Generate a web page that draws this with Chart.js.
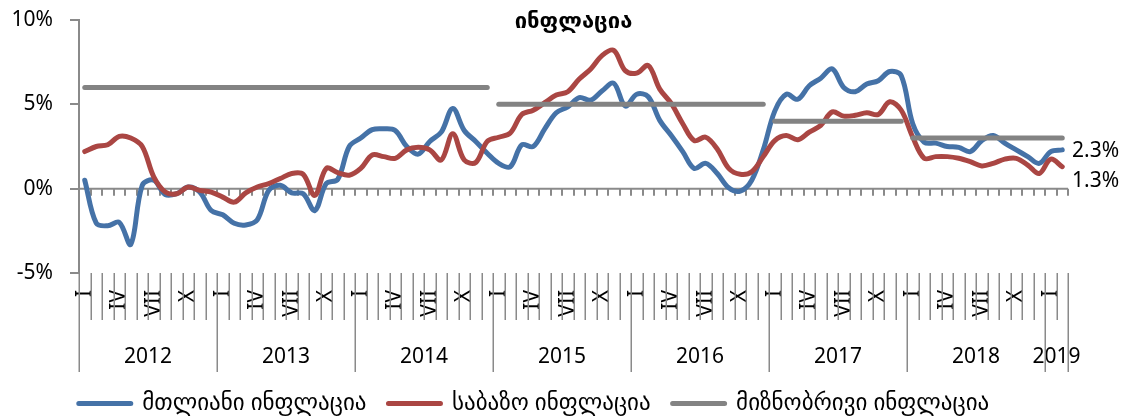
<!DOCTYPE html>
<html>
<head>
<meta charset="utf-8">
<script src="https://cdn.jsdelivr.net/npm/chart.js@4.4.1/dist/chart.umd.min.js"></script>
<style>
  html, body { margin: 0; padding: 0; background: #fff; }
  #wrap { width: 1128px; height: 417px; }
</style>
</head>
<body>
<div id="wrap"><canvas id="chart" width="1128" height="417"></canvas></div>
<script>
// years on the lower axis and month marks (roman) on the upper axis row
const years = ['2012', '2013', '2014', '2015', '2016', '2017', '2018', '2019'];
const monthMarks = ['I', '', '', 'IV', '', '', 'VII', '', '', 'X', '', ''];
const monthsInYear = [12, 12, 12, 12, 12, 12, 12, 2];

// headline CPI, y/y %, Jan 2012 - Feb 2019
const headline = [
  0.5, -2.05, -2.2, -2.0, -3.3, 0.2, 0.5, -0.35, -0.3, 0.1, -0.2, -1.3,
  -1.55, -2.05, -2.15, -1.85, -0.1, 0.2, -0.25, -0.3, -1.3, 0.3, 0.55, 2.5,
  3.0, 3.5, 3.55, 3.45, 2.5, 2.05, 2.8, 3.35, 4.75, 3.45, 2.8, 2.1,
  1.5, 1.3, 2.6, 2.5, 3.55, 4.5, 4.85, 5.4, 5.25, 5.8, 6.25, 4.9,
  5.6, 5.45, 4.05, 3.15, 2.2, 1.2, 1.5, 0.9, 0.05, -0.15, 0.5, 2.3,
  4.6, 5.6, 5.3, 6.1, 6.55, 7.1, 6.0, 5.75, 6.2, 6.4, 6.95, 6.7,
  3.85, 2.75, 2.7, 2.5, 2.45, 2.2, 2.85, 3.15, 2.7, 2.3, 1.9, 1.5,
  2.2, 2.3
];

// core CPI
const core = [
  2.2, 2.5, 2.6, 3.1, 3.0, 2.5, 0.7, -0.2, -0.3, 0.1, -0.1, -0.2,
  -0.5, -0.8, -0.25, 0.1, 0.3, 0.6, 0.9, 0.85, -0.4, 1.2, 0.95, 0.8,
  1.2, 2.0, 1.9, 1.8, 2.3, 2.45, 2.3, 1.7, 3.25, 1.7, 1.55, 2.8,
  3.05, 3.3, 4.4, 4.65, 5.1, 5.55, 5.75, 6.5, 7.1, 7.9, 8.2, 7.0,
  6.85, 7.3, 5.9, 5.05, 3.85, 2.85, 3.05, 2.35, 1.2, 0.85, 1.0, 1.9,
  2.85, 3.15, 2.9, 3.35, 3.75, 4.55, 4.3, 4.35, 4.5, 4.4, 5.15, 4.65,
  3.05, 1.8, 1.9, 1.9, 1.8, 1.6, 1.35, 1.5, 1.75, 1.8, 1.4, 0.9,
  1.75, 1.3
];

// inflation target
const target = [
  6, 6, 6, 6, 6, 6, 6, 6, 6, 6, 6, 6,
  6, 6, 6, 6, 6, 6, 6, 6, 6, 6, 6, 6,
  6, 6, 6, 6, 6, 6, 6, 6, 6, 6, 6, 6,
  5, 5, 5, 5, 5, 5, 5, 5, 5, 5, 5, 5,
  5, 5, 5, 5, 5, 5, 5, 5, 5, 5, 5, 5,
  4, 4, 4, 4, 4, 4, 4, 4, 4, 4, 4, 4,
  3, 3, 3, 3, 3, 3, 3, 3, 3, 3, 3, 3,
  3, 3
];

const seriesNames = ['მთლიანი ინფლაცია', 'საბაზო ინფლაცია', 'მიზნობრივი ინფლაცია'];
const chartTitle = 'ინფლაცია';

const BLUE = '#4572a7';
const RED = '#aa4643';
const GRAY = '#838383';
const AXIS = '#8a8a8a';
const FONT = "'Noto Sans', 'DejaVu Sans', sans-serif";

// category labels + year spans
const labels = [];
const yearSpans = [];
monthsInYear.forEach((n, j) => {
  const first = labels.length;
  for (let m = 0; m < n; m++) labels.push(monthMarks[m]);
  yearSpans.push({ first, last: labels.length - 1 });
});
const yearCenters = yearSpans.map(s => (s.first + s.last) / 2);

// zero line with ticks, separators in the label area, title, end labels
const decor = {
  id: 'decor',
  beforeDatasetsDraw(chart) {
    const { ctx, scales: { x2, y } } = chart;
    const y0 = y.getPixelForValue(0);
    ctx.save();
    ctx.strokeStyle = AXIS;
    ctx.lineWidth = 2;
    ctx.beginPath();
    ctx.moveTo(x2.left, y0);
    ctx.lineTo(x2.right, y0);
    for (let k = 0; k <= labels.length; k++) {
      const px = Math.round(x2.getPixelForValue(k - 0.5));
      ctx.moveTo(px, y0);
      ctx.lineTo(px, y0 + 7);
    }
    ctx.stroke();
    ctx.restore();
  },
  afterDraw(chart) {
    const { ctx, chartArea, scales: { x, x2, y } } = chart;
    ctx.save();
    ctx.strokeStyle = AXIS;
    ctx.lineWidth = 1.5;
    ctx.beginPath();
    for (let k = 0; k <= labels.length; k++) {
      const px = Math.round(x2.getPixelForValue(k - 0.5)) + 0.25;
      ctx.moveTo(px, y.bottom);
      ctx.lineTo(px, x.bottom);
    }
    const edges = yearSpans.map(s => s.first).concat([labels.length]);
    edges.forEach(k => {
      const px = Math.round(x2.getPixelForValue(k - 0.5)) + 0.25;
      ctx.moveTo(px, x.bottom);
      ctx.lineTo(px, x.bottom + 52);
    });
    ctx.stroke();

    // title
    ctx.fillStyle = '#000';
    ctx.font = "bold 22px 'DejaVu Sans', sans-serif";
    ctx.textAlign = 'center';
    ctx.textBaseline = 'middle';
    ctx.fillText(chartTitle, (chartArea.left + chartArea.right) / 2, chartArea.top + 2);

    // last values
    ctx.font = '21px ' + FONT;
    ctx.textAlign = 'left';
    const lastH = headline[headline.length - 1];
    const lastC = core[core.length - 1];
    ctx.fillText(lastH.toFixed(1) + '%', chartArea.right + 4, y.getPixelForValue(lastH) + 1);
    ctx.fillText(lastC.toFixed(1) + '%', chartArea.right + 4, y.getPixelForValue(lastC) + 14);
    ctx.restore();
  }
};

const lineStyle = {
  borderWidth: 5,
  pointRadius: 0,
  pointHoverRadius: 0,
  borderCapStyle: 'round',
  borderJoinStyle: 'round',
  fill: false
};

const ctx = document.getElementById('chart').getContext('2d');
new Chart(ctx, {
  type: 'line',
  data: {
    labels: labels,
    datasets: [
      Object.assign({ label: seriesNames[0], data: headline, borderColor: BLUE, backgroundColor: BLUE, tension: 0.35, order: 3 }, lineStyle),
      Object.assign({ label: seriesNames[1], data: core, borderColor: RED, backgroundColor: RED, tension: 0.35, order: 2 }, lineStyle),
      Object.assign({
        label: seriesNames[2], data: target, borderColor: GRAY, backgroundColor: GRAY, tension: 0, order: 1,
        segment: { borderColor: c => (c.p0.parsed.y !== c.p1.parsed.y ? 'rgba(0,0,0,0)' : GRAY) }
      }, lineStyle)
    ]
  },
  options: {
    responsive: false,
    animation: false,
    devicePixelRatio: 1,
    layout: { padding: { top: 20, right: 60, left: 0, bottom: -8 } },
    scales: {
      x: {
        type: 'category',
        offset: true,
        weight: 0,
        grid: { display: false, drawTicks: false },
        border: { display: false },
        ticks: {
          autoSkip: false, maxRotation: 90, minRotation: 90, padding: 17,
          color: '#000', font: { family: FONT, size: 21 }
        },
        afterFit: s => { s.height = 47; }
      },
      x2: {
        type: 'linear',
        position: 'bottom',
        weight: 1,
        min: -0.5,
        max: labels.length - 0.5,
        grid: { display: false, drawTicks: false },
        border: { display: false },
        afterBuildTicks: s => { s.ticks = yearCenters.map(v => ({ value: v })); },
        ticks: {
          autoSkip: false, maxRotation: 0, padding: 24,
          color: '#000', font: { family: FONT, size: 21 },
          callback: (v, i) => years[i]
        },
        afterFit: s => { s.height = 50; }
      },
      y: {
        min: -5,
        max: 10,
        ticks: {
          stepSize: 5, padding: 17, color: '#000', font: { family: FONT, size: 21 },
          callback: v => v + '%'
        },
        grid: { drawOnChartArea: false, tickLength: 9, color: AXIS, lineWidth: 2 },
        border: { color: AXIS, width: 2 },
        afterFit: s => { s.width = 79; s.paddingTop = 13; s.paddingBottom = 13; }
      }
    },
    plugins: {
      legend: {
        position: 'bottom',
        labels: {
          boxWidth: 52,
          boxHeight: 0,
          padding: 22,
          color: '#000',
          font: { family: FONT, size: 23 },
          sort: (a, b) => a.datasetIndex - b.datasetIndex
        }
      },
      title: { display: false },
      tooltip: { enabled: false }
    }
  },
  plugins: [decor]
});
</script>
</body>
</html>
